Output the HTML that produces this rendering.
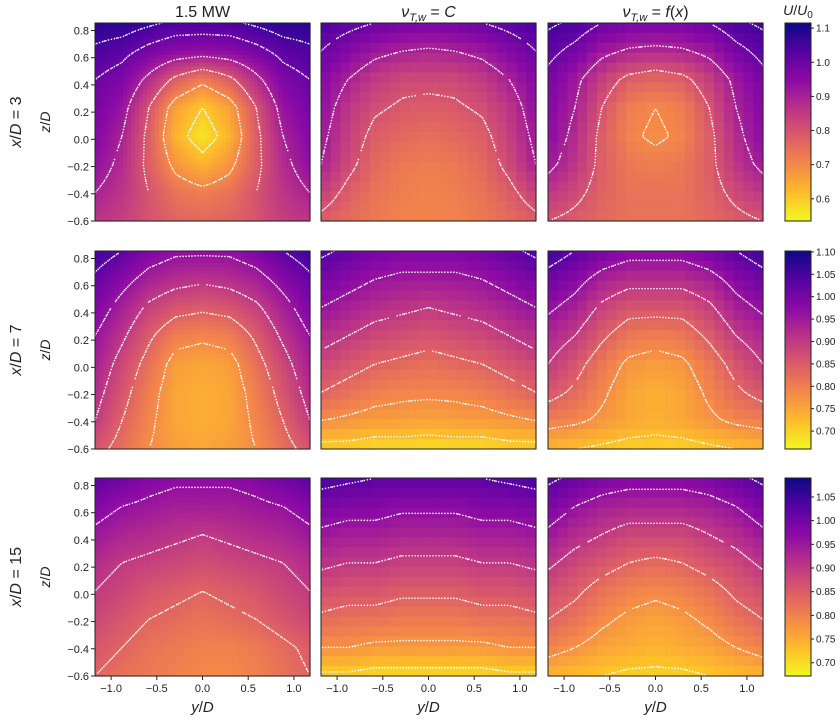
<!DOCTYPE html>
<html><head><meta charset="utf-8"><style>
body{margin:0;background:#fff;}
svg text{font-family:"Liberation Sans",sans-serif;fill:#222;}
</style></head><body>
<svg id="fig" width="840" height="717" viewBox="0 0 840 717" xmlns="http://www.w3.org/2000/svg"></svg>
<script>
// grid: 9 columns (y/D -1.1..1.1), 8 rows (z/D 0.8 .. -0.55), values U/U0
const p11=[[1.08,1.08,1.06,1.04,1.04,1.04,1.06,1.08,1.08],[1.04,1.02,0.98,0.95,0.94,0.95,0.98,1.02,1.04],[1.0,0.97,0.88,0.78,0.72,0.78,0.88,0.97,1.0],[0.98,0.93,0.80,0.66,0.60,0.66,0.80,0.93,0.98],[0.96,0.90,0.78,0.63,0.56,0.63,0.78,0.90,0.96],[0.94,0.88,0.78,0.68,0.63,0.68,0.78,0.88,0.94],[0.90,0.86,0.80,0.74,0.72,0.74,0.80,0.86,0.90],[0.86,0.84,0.80,0.77,0.76,0.77,0.80,0.84,0.86]];
const p12=[[1.04,1.02,1.0,0.98,0.98,0.98,1.0,1.02,1.04],[1.0,0.96,0.92,0.90,0.89,0.90,0.92,0.96,1.0],[0.96,0.90,0.85,0.82,0.82,0.82,0.85,0.90,0.96],[0.94,0.86,0.81,0.79,0.78,0.79,0.81,0.86,0.94],[0.92,0.84,0.78,0.76,0.75,0.76,0.78,0.84,0.92],[0.9,0.82,0.76,0.73,0.72,0.73,0.76,0.82,0.9],[0.84,0.78,0.74,0.72,0.71,0.72,0.74,0.78,0.84],[0.78,0.75,0.73,0.71,0.71,0.71,0.73,0.75,0.78]];
const p13=[[1.06,1.04,1.0,0.98,0.98,0.98,1.0,1.04,1.06],[1.02,0.98,0.92,0.89,0.88,0.89,0.92,0.98,1.02],[0.98,0.92,0.84,0.78,0.76,0.78,0.84,0.92,0.98],[0.96,0.90,0.80,0.72,0.70,0.72,0.80,0.90,0.96],[0.95,0.88,0.78,0.71,0.69,0.71,0.78,0.88,0.95],[0.92,0.86,0.78,0.73,0.72,0.73,0.78,0.86,0.92],[0.86,0.82,0.77,0.74,0.74,0.74,0.77,0.82,0.86],[0.80,0.78,0.76,0.74,0.74,0.74,0.76,0.78,0.80]];
const p21=[[1.06,1.03,0.99,0.97,0.97,0.97,0.99,1.03,1.06],[1.02,0.98,0.94,0.92,0.91,0.92,0.94,0.98,1.02],[0.99,0.94,0.89,0.86,0.85,0.86,0.89,0.94,0.99],[0.96,0.91,0.85,0.80,0.79,0.80,0.85,0.91,0.96],[0.94,0.88,0.82,0.76,0.75,0.76,0.82,0.88,0.94],[0.92,0.86,0.80,0.75,0.74,0.75,0.80,0.86,0.92],[0.90,0.84,0.79,0.75,0.74,0.75,0.79,0.84,0.90],[0.86,0.82,0.78,0.76,0.75,0.76,0.78,0.82,0.86]];
const p22=[[1.04,1.02,1.0,0.99,0.99,0.99,1.0,1.02,1.04],[1.0,0.98,0.96,0.95,0.95,0.95,0.96,0.98,1.0],[0.96,0.94,0.92,0.91,0.90,0.91,0.92,0.94,0.96],[0.92,0.90,0.88,0.87,0.86,0.87,0.88,0.90,0.92],[0.88,0.86,0.84,0.83,0.82,0.83,0.84,0.86,0.88],[0.84,0.82,0.80,0.79,0.79,0.79,0.80,0.82,0.84],[0.78,0.77,0.76,0.76,0.75,0.76,0.76,0.77,0.78],[0.70,0.70,0.69,0.69,0.69,0.69,0.69,0.70,0.70]];
const p23=[[1.06,1.03,1.0,0.98,0.98,0.98,1.0,1.03,1.06],[1.01,0.98,0.94,0.92,0.92,0.92,0.94,0.98,1.01],[0.97,0.94,0.89,0.86,0.86,0.86,0.89,0.94,0.97],[0.93,0.90,0.85,0.81,0.80,0.81,0.85,0.90,0.93],[0.90,0.86,0.81,0.77,0.76,0.77,0.81,0.86,0.90],[0.86,0.83,0.79,0.75,0.74,0.75,0.79,0.83,0.86],[0.80,0.79,0.77,0.75,0.74,0.75,0.77,0.79,0.80],[0.73,0.72,0.71,0.70,0.70,0.70,0.71,0.72,0.73]];
const p31=[[1.02,1.0,0.98,0.97,0.97,0.97,0.98,1.0,1.02],[0.98,0.96,0.95,0.94,0.94,0.94,0.95,0.96,0.98],[0.95,0.93,0.92,0.91,0.90,0.91,0.92,0.93,0.95],[0.92,0.90,0.89,0.88,0.87,0.88,0.89,0.90,0.92],[0.90,0.88,0.86,0.85,0.84,0.85,0.86,0.88,0.90],[0.88,0.86,0.84,0.83,0.82,0.83,0.84,0.86,0.88],[0.86,0.84,0.82,0.81,0.80,0.80,0.81,0.83,0.85],[0.84,0.82,0.81,0.80,0.79,0.79,0.80,0.82,0.84]];
const p32=[[1.04,1.03,1.02,1.02,1.02,1.02,1.02,1.03,1.04],[0.99,0.98,0.98,0.97,0.97,0.97,0.98,0.98,0.99],[0.95,0.94,0.94,0.93,0.93,0.93,0.94,0.94,0.95],[0.91,0.90,0.90,0.89,0.89,0.89,0.90,0.90,0.91],[0.87,0.86,0.86,0.85,0.85,0.85,0.86,0.86,0.87],[0.83,0.82,0.82,0.81,0.81,0.81,0.82,0.82,0.83],[0.78,0.78,0.77,0.77,0.77,0.77,0.77,0.78,0.78],[0.71,0.71,0.70,0.70,0.70,0.70,0.70,0.71,0.71]];
const p33=[[1.03,1.01,0.99,0.98,0.98,0.98,0.99,1.01,1.03],[0.99,0.96,0.94,0.93,0.93,0.93,0.94,0.96,0.99],[0.95,0.92,0.90,0.88,0.88,0.88,0.90,0.92,0.95],[0.91,0.88,0.86,0.84,0.83,0.84,0.86,0.88,0.91],[0.87,0.85,0.82,0.80,0.79,0.80,0.82,0.85,0.87],[0.84,0.82,0.79,0.77,0.76,0.77,0.79,0.82,0.84],[0.80,0.78,0.76,0.75,0.74,0.75,0.76,0.78,0.80],[0.74,0.73,0.72,0.71,0.71,0.71,0.72,0.73,0.74]];
const colTitles=["1.5 MW","C","f(x)"];
const rowLabels=["3","7","15"];
const zTicks=[0.8,0.6,0.4,0.2,0.0,-0.2,-0.4,-0.6];
const yTicks=[-1.0,-0.5,0.0,0.5,1.0];
const cbTicks=[[0.6,0.7,0.8,0.9,1.0,1.1],[0.70,0.75,0.80,0.85,0.90,0.95,1.00,1.05,1.10],[0.70,0.75,0.80,0.85,0.90,0.95,1.00,1.05]];
const cbRange=[[0.535,1.115],[0.66,1.102],[0.672,1.09]];
const levels=[[0.6,0.7,0.8,0.9,1.0,1.05],[0.72,0.78,0.84,0.9,0.96,1.03],[0.72,0.78,0.84,0.9,0.96,1.02]];
const panels=[[p11,p12,p13],[p21,p22,p23],[p31,p32,p33]];

const NS="http://www.w3.org/2000/svg";
const svg=document.getElementById('fig');
function mk(t,a,parent){const e=document.createElementNS(NS,t);for(const k in a)e.setAttribute(k,a[k]);(parent||svg).appendChild(e);return e;}
const colX=[95,321,548], PW=215, rowY=[23,251,478], PH=198;
const Y0=-1.176,Y1=1.176,Z0=-0.6,Z1=0.855;
function xs(c,v){return colX[c]+(v-Y0)/(Y1-Y0)*PW;}
function zs(r,v){return rowY[r]+PH-(v-Z0)/(Z1-Z0)*PH;}
const stops=[[13,8,135],[84,2,163],[139,10,165],[185,50,137],[219,92,104],[244,136,73],[254,188,43],[240,249,33]];
function cmap(t){t=1-Math.max(0,Math.min(1,t));const s=t*(stops.length-1);const i=Math.min(stops.length-2,Math.floor(s));const f=s-i;const a=stops[i],b=stops[i+1];return `rgb(${Math.round(a[0]+(b[0]-a[0])*f)},${Math.round(a[1]+(b[1]-a[1])*f)},${Math.round(a[2]+(b[2]-a[2])*f)})`;}
function sample(g,u,v){
  u=Math.max(0,Math.min(8,u));v=Math.max(0,Math.min(7,v));
  const i=Math.min(7,Math.floor(u)),j=Math.min(6,Math.floor(v));const fu=u-i,fv=v-j;
  return g[j][i]*(1-fu)*(1-fv)+g[j][i+1]*fu*(1-fv)+g[j+1][i]*(1-fu)*fv+g[j+1][i+1]*fu*fv;}
function fmt(v,d){return (v<0?'\u2212':'')+Math.abs(v).toFixed(d);}

for(let r=0;r<3;r++){
  const [vmin,vmax]=cbRange[r];
  for(let c=0;c<3;c++){
    const g=panels[r][c];
    const grp=mk('g',{});
    
    
    const NX=c==0?54:22, NZ=c==0?50:20;
    for(let j=0;j<NZ;j++){for(let i=0;i<NX;i++){
      const u=(i+0.5)/NX*8, v=(j+0.5)/NZ*7;
      const val=sample(g,u,v);
      const x0=colX[c]+i*PW/NX, y0=rowY[r]+j*PH/NZ;
      const cell=mk('rect',{x:x0.toFixed(2),y:y0.toFixed(2),width:(PW/NX+0.6).toFixed(2),height:(PH/NZ+0.6).toFixed(2),fill:cmap((val-vmin)/(vmax-vmin))},grp);
      
      
    }}
    const MX=72,MZ=66;const f=[];
    for(let j=0;j<=MZ;j++){f.push([]);for(let i=0;i<=MX;i++)f[j].push(sample(g,i/MX*8,j/MZ*7));}
    let d='';
    const px=i=>colX[c]+i/MX*PW, py=j=>rowY[r]+j/MZ*PH;
    for(const L of levels[r]){
      for(let j=0;j<MZ;j++)for(let i=0;i<MX;i++){
        const a=f[j][i],b=f[j][i+1],cc=f[j+1][i+1],dd=f[j+1][i];
        const pts=[];
        if((a-L)*(b-L)<0)pts.push([px(i+(L-a)/(b-a)),py(j)]);
        if((b-L)*(cc-L)<0)pts.push([px(i+1),py(j+(L-b)/(cc-b))]);
        if((dd-L)*(cc-L)<0)pts.push([px(i+(L-dd)/(cc-dd)),py(j+1)]);
        if((a-L)*(dd-L)<0)pts.push([px(i),py(j+(L-a)/(dd-a))]);
        if(pts.length>=2){const mx=(pts[0][0]+pts[1][0])/2,my=(pts[0][1]+pts[1][1])/2;d+=`M${mx.toFixed(1)} ${my.toFixed(1)}h0.01`;}
      }
    }
    const cp=mk('path',{d:d,stroke:'#fff','stroke-width':1.7,fill:'none','stroke-linecap':'round',opacity:0.95},grp);
    
    
    const fr=mk('rect',{x:colX[c],y:rowY[r],width:PW,height:PH,fill:'none',stroke:'#222','stroke-width':1});
    
    
    if(c==0){
      for(const t of zTicks){const y=zs(r,t);
        mk('line',{x1:colX[0]-4,x2:colX[0],y1:y,y2:y,stroke:'#222'});
        const tx=mk('text',{x:colX[0]-6,y:y+4,'text-anchor':'end','font-size':11});tx.textContent=fmt(t,1);
        
        }
    }
    if(r==2){
      for(const t of yTicks){const x=xs(c,t);
        mk('line',{x1:x,x2:x,y1:rowY[2]+PH,y2:rowY[2]+PH+4,stroke:'#222'});
        const tx=mk('text',{x:x,y:rowY[2]+PH+16,'text-anchor':'middle','font-size':11});tx.textContent=fmt(t,1);
        
        }
    }
  }
  const cbx=785,cbw=26;
  const cg=mk('g',{});
  
  
  const N=80;
  for(let k=0;k<N;k++){const v=vmax-(k+0.5)/N*(vmax-vmin);
    mk('rect',{x:cbx,y:(rowY[r]+k*PH/N).toFixed(2),width:cbw,height:(PH/N+0.5).toFixed(2),fill:cmap((v-vmin)/(vmax-vmin))},cg);}
  mk('rect',{x:cbx,y:rowY[r],width:cbw,height:PH,fill:'none',stroke:'#222'},cg);
  for(const t of cbTicks[r]){const y=rowY[r]+(vmax-t)/(vmax-vmin)*PH;
    mk('line',{x1:cbx+cbw,x2:cbx+cbw+3,y1:y,y2:y,stroke:'#222'},cg);
    const tx=mk('text',{x:cbx+cbw+5,y:y+3.5,'font-size':10},cg);tx.textContent=r==0?t.toFixed(1):t.toFixed(2);
    
    }
  const cy=rowY[r]+PH/2;
  const rl=mk('text',{x:0,y:0,'font-size':16,'text-anchor':'middle',transform:`translate(21 ${cy}) rotate(-90)`});
  rl.innerHTML=`<tspan font-style="italic">x</tspan>/<tspan font-style="italic">D</tspan> = ${rowLabels[r]}`;
  
  
  const zl=mk('text',{x:0,y:0,'font-size':14,'text-anchor':'middle',transform:`translate(50 ${cy}) rotate(-90)`});
  zl.innerHTML=`<tspan font-style="italic">z</tspan>/<tspan font-style="italic">D</tspan>`;
  
  
}
for(let c=0;c<3;c++){
  const cx=colX[c]+PW/2;
  const t=mk('text',{x:cx,y:17,'font-size':16,'text-anchor':'middle'});
  if(c==0)t.textContent=colTitles[0];
  else t.innerHTML=`<tspan font-style="italic">ν</tspan><tspan font-size="11" dy="4" font-style="italic">T,w</tspan><tspan dy="-4"> = </tspan><tspan font-style="italic">${colTitles[c]=="C"?"C":"f"}</tspan>${colTitles[c]=="C"?"":"(<tspan font-style=\"italic\">x</tspan>)"}`;
  
  
  const yl=mk('text',{x:cx,y:712,'font-size':15,'text-anchor':'middle'});
  yl.innerHTML=`<tspan font-style="italic">y</tspan>/<tspan font-style="italic">D</tspan>`;
  
  
}
const ul=mk('text',{x:798,y:15,'font-size':14,'text-anchor':'middle'});
ul.innerHTML=`<tspan font-style="italic">U</tspan>/<tspan font-style="italic">U</tspan><tspan font-size="10" dy="3">0</tspan>`;


</script>
</body></html>
